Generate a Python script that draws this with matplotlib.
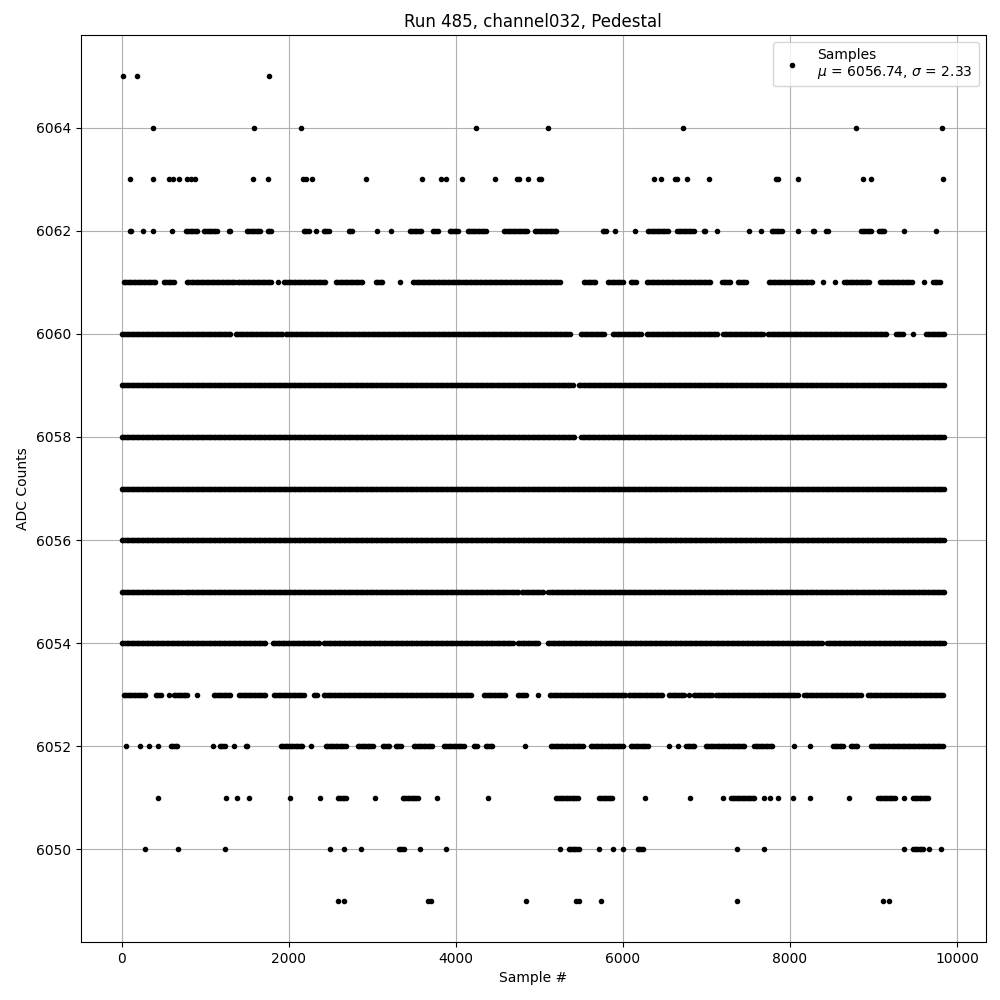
import matplotlib
matplotlib.use('Agg')
import numpy as np
import matplotlib.pyplot as plt

# ADC level -> runs of sample indices (start, end); single hits have start == end
runs = {
    6065: [(12, 12), (180, 180), (1760, 1760)],
    6064: [(371, 371), (1581, 1581), (2144, 2144), (4240, 4240), (5102, 5102),
           (6719, 6719), (8790, 8790), (9820, 9820)],
    6063: [(96, 96), (371, 371), (563, 563), (611, 611), (683, 683), (778, 778), (826, 826),
           (874, 874), (1569, 1569), (1749, 1749), (2168, 2168), (2204, 2204), (2276, 2276),
           (2922, 2922), (3593, 3593), (3820, 3820), (3880, 3880), (4072, 4072), (4467, 4467),
           (4731, 4731), (4755, 4755), (4862, 4862), (4994, 4994), (5018, 5018), (6371, 6371),
           (6455, 6455), (6623, 6623), (6647, 6647), (6767, 6767), (7030, 7030), (7832, 7832),
           (7856, 7856), (8096, 8096), (8874, 8874), (8970, 8970), (9832, 9832)],
    6062: [(96, 132), (251, 251), (371, 371), (599, 599), (766, 910), (982, 1150), (1281, 1317),
           (1497, 1665), (1749, 1796), (2180, 2251), (2323, 2323), (2419, 2479), (2719, 2766),
           (3054, 3054), (3222, 3222), (3449, 3605), (3725, 3796), (3928, 4036), (4144, 4383),
           (4575, 4862), (4946, 5222), (5760, 5808), (5904, 5904), (6143, 6143), (6299, 6539),
           (6647, 6850), (6970, 7006), (7126, 7126), (7509, 7509), (7653, 7653), (7784, 7904),
           (8096, 8108), (8275, 8311), (8431, 8467), (8850, 8970), (9066, 9126), (9365, 9365),
           (9748, 9748)],
    6061: [(24, 407), (503, 623), (778, 1365), (1389, 1808), (1868, 1868), (1940, 2443),
           (2563, 2886), (3042, 3126), (3329, 3329), (3485, 5257), (5533, 5677), (5820, 6012),
           (6096, 6168), (6287, 7054), (7186, 7294), (7377, 7485), (7748, 8287), (8395, 8395),
           (8539, 8539), (8647, 8958), (9078, 9473), (9605, 9605), (9713, 9808)],
    6060: [(0, 1317), (1365, 1928), (1964, 5377), (5497, 5796), (5880, 6239), (6287, 7138),
           (7198, 7689), (7736, 9174), (9270, 9365), (9473, 9473), (9629, 9850)],
    6059: [(0, 5400), (5470, 9850)],
    6058: [(0, 5430), (5500, 9850)],
    6057: [(0, 9850)],
    6056: [(0, 9850)],
    6055: [(0, 730), (760, 4620), (4650, 4750), (4790, 5050), (5110, 9850)],
    6054: [(0, 1725), (1808, 2383), (2419, 4479), (4503, 4695), (4743, 4994), (5102, 8395),
           (8443, 9850)],
    6053: [(24, 287), (407, 467), (563, 563), (623, 790), (898, 898), (1102, 1305),
           (1401, 1725), (1820, 2180), (2300, 2347), (2419, 4180), (4335, 4599), (4743, 4862),
           (4982, 4982), (5126, 6036), (6072, 6479), (6551, 6731), (6791, 6791), (6850, 7078),
           (7114, 8108), (8168, 8850), (8934, 9840)],
    6052: [(48, 48), (216, 216), (323, 323), (431, 431), (587, 671), (1090, 1090), (1174, 1246),
           (1341, 1341), (1485, 1521), (1904, 2168), (2263, 2263), (2443, 2683), (2826, 3018),
           (3126, 3222), (3281, 3341), (3497, 3725), (3856, 4096), (4216, 4264), (4359, 4443),
           (4826, 4826), (5138, 5521), (5617, 6000), (6096, 6299), (6551, 6551), (6659, 6659),
           (6755, 6874), (6994, 7473), (7569, 7808), (8048, 8048), (8240, 8240), (8515, 8635),
           (8730, 8826), (8970, 9840)],
    6051: [(431, 431), (1246, 1246), (1377, 1377), (1521, 1521), (2012, 2012), (2371, 2371),
           (2587, 2695), (3030, 3030), (3365, 3545), (3772, 3772), (4383, 4383), (5198, 5473),
           (5712, 5880), (6263, 6263), (6802, 6802), (7198, 7198), (7294, 7593), (7689, 7689),
           (7760, 7760), (7856, 7856), (8036, 8036), (8240, 8240), (8706, 8706), (9054, 9270),
           (9365, 9365), (9473, 9665)],
    6050: [(275, 275), (671, 671), (1234, 1234), (2491, 2503), (2659, 2659), (2862, 2862),
           (3317, 3377), (3569, 3569), (3880, 3880), (5245, 5245), (5353, 5473), (5712, 5712),
           (5880, 5880), (6000, 6000), (6180, 6251), (7365, 7365), (7689, 7689), (9365, 9365),
           (9473, 9593), (9665, 9665), (9808, 9808)],
    6049: [(2587, 2587), (2659, 2659), (3665, 3665), (3700, 3700), (4838, 4838), (5437, 5437),
           (5473, 5473), (5736, 5736), (7365, 7365), (9114, 9114), (9186, 9186)],
}

mu = 6056.74
sigma = 2.33

xs = []
ys = []
for level, spans in runs.items():
    for a, b in spans:
        pts = np.arange(a, b + 1, 20) if b > a else np.array([a])
        xs.extend(pts)
        ys.extend([level] * len(pts))

plt.figure(figsize=(10, 10))
plt.plot(xs, ys, 'k.', label="Samples\n$\\mu$ = %.2f, $\\sigma$ = %.2f" % (mu, sigma))
plt.grid(True)
plt.xlabel("Sample #")
plt.ylabel("ADC Counts")
plt.title("Run 485, channel032, Pedestal")
plt.legend(loc='upper right')
plt.subplots_adjust(left=0.0805, right=0.9855, top=0.965, bottom=0.058)
plt.savefig("out.png", dpi=100)
